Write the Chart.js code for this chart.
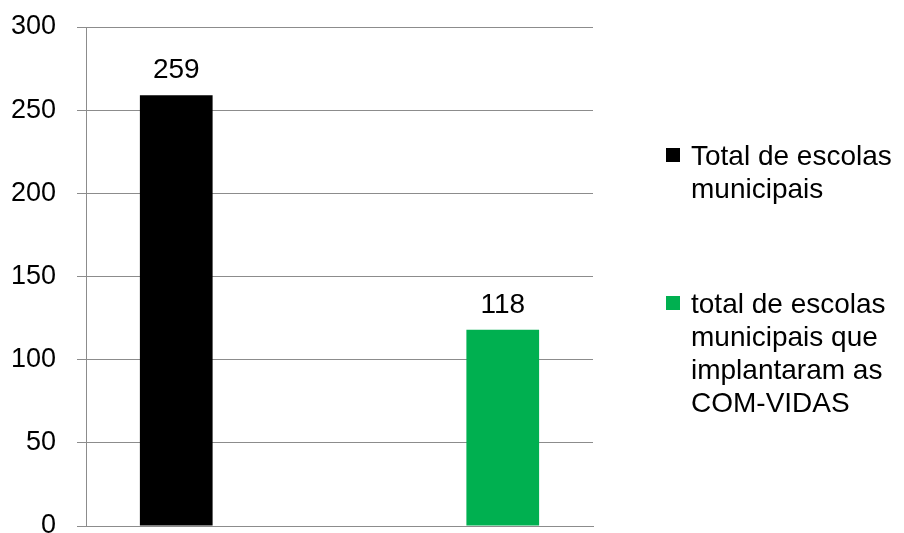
<!DOCTYPE html>
<html lang="pt">
<head>
<meta charset="utf-8">
<title>Escolas municipais e COM-VIDAS</title>
<script src="https://cdn.jsdelivr.net/npm/chart.js@4/dist/chart.umd.min.js"></script>
<style>
  body { margin: 0; overflow: hidden; background: #fff; font-family: "Liberation Sans", Arial, sans-serif; }
  #caixa { position: absolute; left: 0; top: 0; width: 904px; height: 545px; }
  #legenda { position: absolute; left: 0; top: 0; }
  .item { position: absolute; left: 666px; width: 238px; }
  .quadrado { position: absolute; left: 0; width: 14px; height: 14px; }
  .texto { position: absolute; left: 25px; width: 213px; font-size: 28px; line-height: 33px; color: #000; }
</style>
</head>
<body>
<div id="caixa"><canvas id="graficoEscolas"></canvas></div>
<div id="legenda"></div>
<script>
// dados do grafico
const categorias = [''];
const series = ['Total de escolas municipais', 'total de escolas municipais que implantaram as COM-VIDAS'];
const valoresTotal = [259];
const valoresComVidas = [118];
const cores = ['#000000', '#00B050'];
const ticksY = [0, 50, 100, 150, 200, 250, 300];

const cinza = '#8c8c8c';
const fonte = '"Liberation Sans", Arial, sans-serif';

// escreve o valor em cima de cada barra
const rotulosValores = {
  id: 'rotulosValores',
  afterDatasetsDraw(chart) {
    const ctx = chart.ctx;
    ctx.save();
    ctx.font = '28px ' + fonte;
    ctx.fillStyle = '#000';
    ctx.textAlign = 'center';
    ctx.textBaseline = 'alphabetic';
    chart.data.datasets.forEach((ds, i) => {
      chart.getDatasetMeta(i).data.forEach((barra, j) => {
        ctx.fillText(String(ds.data[j]), barra.x, barra.y - 17);
      });
    });
    ctx.restore();
  }
};

const ctx = document.getElementById('graficoEscolas').getContext('2d');
const grafico = new Chart(ctx, {
  type: 'bar',
  data: {
    labels: categorias,
    datasets: [
      { label: series[0], data: valoresTotal, backgroundColor: cores[0] },
      { label: series[1], data: valoresComVidas, backgroundColor: cores[1] }
    ]
  },
  options: {
    responsive: true,
    maintainAspectRatio: false,
    animation: false,
    categoryPercentage: 1.288,
    barPercentage: 0.2227,
    layout: { padding: { top: 27, bottom: 19, left: 0, right: 311 } },
    plugins: { legend: { display: false }, tooltip: { enabled: false } },
    scales: {
      x: {
        grid: { display: false },
        ticks: { display: false },
        border: { color: cinza, width: 1 },
        afterFit(escala) { escala.height = 0; escala.paddingLeft = 0; escala.paddingRight = 0; }
      },
      y: {
        min: 0,
        max: 300,
        afterBuildTicks(escala) { escala.ticks = ticksY.map(v => ({ value: v })); },
        ticks: { color: '#000', padding: 21, font: { family: fonte, size: 27 } },
        grid: { color: cinza, tickColor: cinza, lineWidth: 1, tickLength: 9, drawTicks: true },
        border: { color: cinza, width: 1 },
        afterFit(escala) { escala.width = 86; escala.paddingTop = 0; escala.paddingBottom = 0; }
      }
    }
  },
  plugins: [rotulosValores]
});

// legenda ao lado, com o texto quebrado em linhas
const topoItens = [139, 287];
const legenda = document.getElementById('legenda');
grafico.data.datasets.forEach((ds, i) => {
  const item = document.createElement('div');
  item.className = 'item';
  item.style.top = topoItens[i] + 'px';
  const quadrado = document.createElement('div');
  quadrado.className = 'quadrado';
  quadrado.style.top = '9px';
  quadrado.style.background = ds.backgroundColor;
  const texto = document.createElement('div');
  texto.className = 'texto';
  texto.textContent = ds.label;
  item.appendChild(quadrado);
  item.appendChild(texto);
  legenda.appendChild(item);
});
</script>
</body>
</html>
